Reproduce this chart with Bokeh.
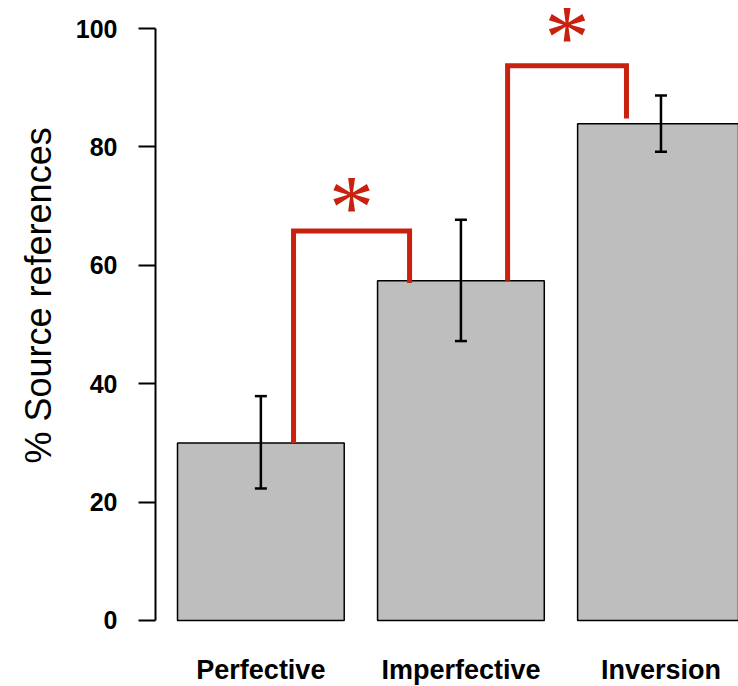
import math
from bokeh.plotting import figure
from bokeh.models import FixedTicker, Title
from bokeh.core.properties import value
from bokeh.embed import file_html
from bokeh.resources import INLINE

# ---- data ----
categories = ["Perfective", "Imperfective", "Inversion"]
bar_x = [0.7, 1.9, 3.1]
percent = [30.0, 57.4, 83.9]
err_upper = [37.9, 67.7, 88.7]
err_lower = [22.3, 47.2, 79.2]
y_ticks = [0, 20, 40, 60, 80, 100]

# significance brackets (left end starts on the bar top)
bracket_left_x = [0.896, 2.180]
bracket_right_x = [1.592, 2.893]
bracket_left_y = [percent[0], percent[1]]
bracket_top_y = [65.8, 93.7]
bracket_right_y = [57.0, 84.8]
star_y = [71.5, 100.2]

RED = "#C8210F"
FONT = "Liberation Sans"

p = figure(width=738, height=686, x_range=(0.068, 3.565), y_range=(-11.15, 104.73),
           output_backend="svg", toolbar_location=None, x_axis_location=None,
           min_border_left=155, min_border_right=0, min_border_top=0, min_border_bottom=0)
p.grid.visible = False
p.outline_line_color = None
p.background_fill_color = "white"

# bars
p.vbar(x=bar_x, top=percent, bottom=0, width=1.0, fill_color="#BEBEBE",
       line_color="black", line_width=1.5)

# error bars
cap = 0.036
p.segment(x0=bar_x, y0=err_lower, x1=bar_x, y1=err_upper, line_color="black", line_width=2.5)
p.segment(x0=[x - cap for x in bar_x], y0=err_upper, x1=[x + cap for x in bar_x], y1=err_upper,
          line_color="black", line_width=2.5)
p.segment(x0=[x - cap for x in bar_x], y0=err_lower, x1=[x + cap for x in bar_x], y1=err_lower,
          line_color="black", line_width=2.5)

# brackets
xs = [[l, l, r, r] for l, r in zip(bracket_left_x, bracket_right_x)]
ys = [[a, t, t, b] for a, t, b in zip(bracket_left_y, bracket_top_y, bracket_right_y)]
p.multi_line(xs=xs, ys=ys, line_color=RED, line_width=5, line_join="miter", line_cap="butt")

# stars
star_x = [(l + r) / 2 for l, r in zip(bracket_left_x, bracket_right_x)]
p.text(x=star_x, y=star_y, text=["*", "*"], text_color=RED, text_font=value("Liberation Serif"),
       text_font_size="90px", text_align="center", text_baseline="middle", y_offset=10)

# category labels
p.text(x=bar_x, y=[-8.28] * 3, text=categories, text_font=value(FONT), text_font_style="bold",
       text_font_size="27px", text_align="center", text_baseline="middle", text_color="black")

# y axis
ax = p.yaxis[0]
ax.ticker = FixedTicker(ticks=y_ticks)
ax.bounds = (0, 100)
ax.minor_tick_line_color = None
ax.major_tick_in = 0
ax.major_tick_out = 17
ax.major_tick_line_width = 2
ax.axis_line_width = 2
ax.major_label_text_font = FONT
ax.major_label_text_font_style = "bold"
ax.major_label_text_font_size = "25px"
ax.major_label_standoff = 21
ax.major_label_text_color = "black"

p.add_layout(Title(text="% Source references", align="left", offset=223, standoff=28,
                   text_font=FONT, text_font_size="36px", text_font_style="normal",
                   text_color="black"), "left")

open("out.html", "w").write(file_html(p, INLINE))
